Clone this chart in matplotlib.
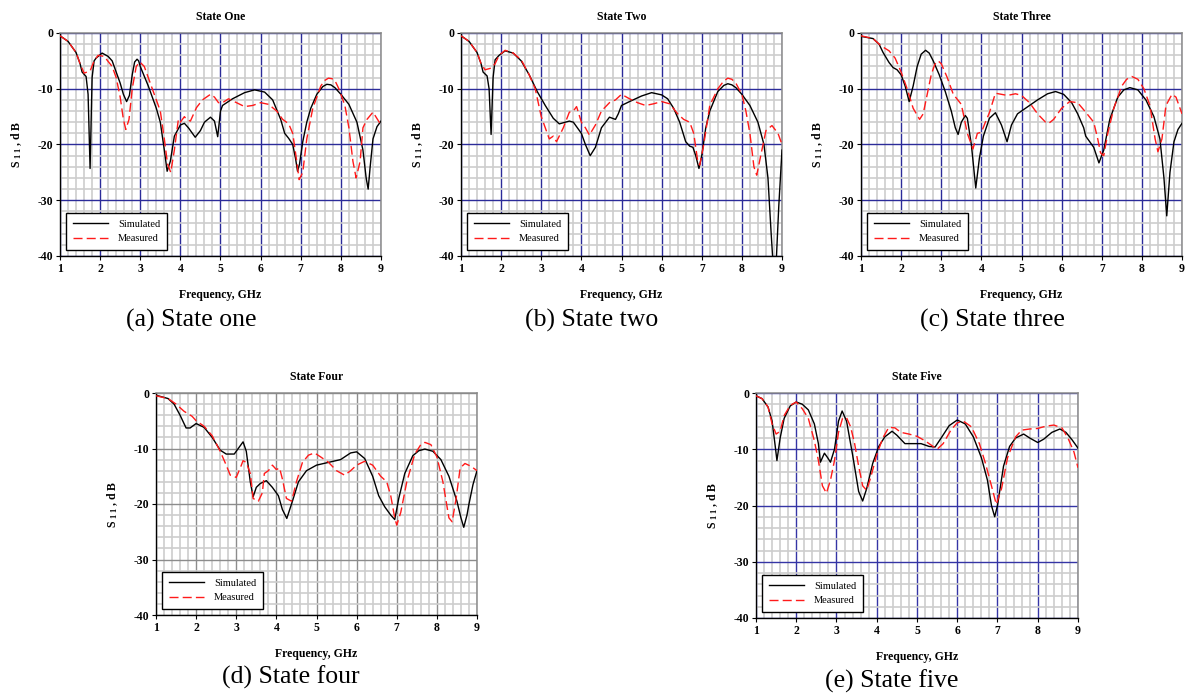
import matplotlib
matplotlib.use("Agg")
import matplotlib.pyplot as plt
from matplotlib.ticker import MultipleLocator

plt.rcParams['font.family'] = ['Liberation Serif', 'DejaVu Serif']
plt.rcParams['axes.unicode_minus'] = False
plt.rcParams['mathtext.fontset'] = 'custom'
plt.rcParams['mathtext.rm'] = 'Liberation Serif:bold'
plt.rcParams['mathtext.default'] = 'rm'

# ---------------- data ----------------
titles = ["State One", "State Two", "State Three", "State Four", "State Five"]
captions = ["(a) State one", "(b) State two", "(c) State three", "(d) State four", "(e) State five"]
series_labels = ["Simulated", "Measured"]
x_ticks = [1, 2, 3, 4, 5, 6, 7, 8, 9]
y_ticks = [0, -10, -20, -30, -40]

fa_sim = [1.0, 1.2, 1.4, 1.5, 1.55, 1.65, 1.7, 1.75, 1.8, 1.85, 1.9, 2.05, 2.2, 2.3, 2.4, 2.5, 2.58, 2.66, 2.73, 2.8, 2.86, 2.92, 2.96,
          3.0, 3.2, 3.4, 3.5, 3.6, 3.67, 3.75, 3.85, 4.0, 4.1, 4.2, 4.37, 4.5, 4.6, 4.75, 4.85, 4.93, 5.0, 5.05, 5.3, 5.6,
          5.85, 6.1, 6.3, 6.5, 6.6, 6.7, 6.8, 6.87, 6.92, 6.97, 7.05, 7.15, 7.25, 7.4, 7.55, 7.65, 7.75, 7.85, 8.0, 8.2, 8.4, 8.55, 8.63, 8.68, 8.73, 8.8, 8.9, 9.0]
sa_sim = [-0.5, -1.5, -3.5, -5.5, -7.0, -7.8, -11.0, -24.3, -8.0, -5.0, -4.5, -3.6, -4.2, -5.0, -7.0, -9.0, -11.0, -12.3, -11.2, -7.5, -5.2, -4.7, -5.0,
          -6.0, -9.5, -13.5, -16.0, -21.0, -24.8, -23.0, -18.5, -16.5, -16.2, -17.0, -18.7, -17.5, -16.0, -15.1, -15.8, -18.6, -14.0, -13.0, -11.8, -10.7,
          -10.2, -10.6, -12.0, -15.5, -18.0, -18.9, -20.0, -22.5, -24.8, -23.5, -19.5, -16.0, -13.5, -11.0, -9.6, -9.2, -9.3, -9.8, -11.0, -12.8, -16.0, -21.0, -26.0, -28.0, -24.0, -19.0, -16.8, -15.8]
fa_meas = [1.0, 1.2, 1.4, 1.5, 1.6, 1.75, 1.85, 1.95, 2.1, 2.3, 2.4, 2.5, 2.58, 2.64, 2.72, 2.8, 2.9, 2.99, 3.1, 3.2, 3.4, 3.5, 3.6, 3.68,
           3.76, 3.85, 3.95, 4.0, 4.1, 4.15, 4.25, 4.4, 4.55, 4.75, 4.85, 4.95, 5.05, 5.2, 5.4, 5.6, 5.8, 6.0, 6.2, 6.4, 6.55, 6.7,
           6.8, 6.9, 6.96, 7.05, 7.15, 7.3, 7.5, 7.6, 7.69, 7.78, 7.85, 7.95, 8.1, 8.2, 8.3, 8.38, 8.48, 8.55, 8.65, 8.8, 9.0]
sa_meas = [-0.5, -1.5, -3.5, -5.5, -7.2, -6.8, -5.0, -4.0, -4.2, -6.0, -8.0, -11.5, -15.5, -17.3, -15.5, -10.0, -6.0, -5.2, -6.0, -8.0, -12.0, -14.0, -19.0, -23.5,
           -25.0, -21.0, -15.5, -16.0, -15.0, -15.5, -15.8, -13.4, -12.0, -11.0, -11.5, -12.5, -12.5, -11.8, -12.5, -13.2, -13.0, -12.5, -12.8, -14.0, -15.5, -16.3,
           -18.0, -23.0, -26.3, -25.0, -19.0, -13.5, -9.5, -8.5, -8.1, -8.2, -8.5, -10.0, -13.0, -17.0, -23.0, -26.0, -23.0, -17.0, -15.5, -14.2, -16.5]

fb_sim = [1.0, 1.2, 1.4, 1.5, 1.55, 1.65, 1.7, 1.75, 1.8, 1.85, 1.95, 2.1, 2.3, 2.5, 2.7, 2.9, 3.1, 3.3, 3.45, 3.6, 3.7, 3.8,
          4.0, 4.1, 4.22, 4.35, 4.5, 4.7, 4.85, 4.92, 5.0, 5.2, 5.5, 5.75, 6.0, 6.15, 6.3, 6.45, 6.6, 6.7, 6.78, 6.85, 6.93,
          7.0, 7.1, 7.2, 7.4, 7.55, 7.65, 7.75, 7.85, 8.0, 8.2, 8.4, 8.55, 8.65, 8.73, 8.8, 8.85, 8.92, 9.0]
sb_sim = [-0.5, -1.5, -3.5, -5.5, -7.0, -7.7, -10.0, -18.2, -8.0, -4.8, -4.0, -3.2, -3.6, -5.0, -7.5, -10.5, -13.0, -15.3, -16.3, -16.0, -15.8, -16.0,
          -18.0, -20.0, -22.0, -20.5, -17.0, -15.1, -15.5, -14.5, -13.0, -12.3, -11.3, -10.7, -11.1, -11.8, -13.5, -16.0, -19.5, -20.3, -20.5, -22.0, -24.3,
          -22.0, -17.0, -14.0, -10.5, -9.4, -9.1, -9.3, -9.8, -11.0, -13.0, -16.0, -20.0, -26.0, -36.0, -44.0, -42.0, -31.0, -21.0]
fb_meas = [1.0, 1.2, 1.4, 1.5, 1.6, 1.75, 1.85, 1.95, 2.1, 2.3, 2.5, 2.7, 2.85, 3.0, 3.1, 3.2, 3.3, 3.38, 3.55, 3.7, 3.8, 3.88,
           4.0, 4.1, 4.2, 4.35, 4.5, 4.7, 4.85, 5.0, 5.2, 5.4, 5.6, 5.8, 6.0, 6.2, 6.4, 6.55, 6.7, 6.8, 6.9, 6.95, 7.05, 7.2,
           7.4, 7.55, 7.65, 7.75, 7.85, 8.0, 8.1, 8.2, 8.3, 8.37, 8.47, 8.6, 8.75, 8.9, 9.0]
sb_meas = [-0.5, -1.5, -3.5, -5.5, -6.6, -6.3, -5.5, -4.0, -3.1, -3.6, -4.8, -7.5, -10.0, -15.0, -17.0, -19.0, -18.5, -19.5, -17.0, -14.2, -14.0, -13.2,
           -16.0, -17.0, -18.3, -16.5, -14.0, -12.5, -12.0, -11.0, -11.8, -12.5, -13.0, -12.7, -12.3, -12.7, -14.5, -15.5, -16.0, -18.0, -23.0, -23.7, -20.0, -13.0,
           -10.0, -8.6, -8.1, -8.3, -9.0, -11.0, -14.0, -18.0, -24.0, -25.5, -22.0, -17.5, -16.6, -18.0, -20.0]

fc_sim = [1.0, 1.3, 1.45, 1.55, 1.7, 1.8, 1.9, 2.0, 2.1, 2.2, 2.3, 2.4, 2.5, 2.61, 2.7, 2.8, 2.95, 3.1, 3.25, 3.35, 3.42, 3.5,
          3.6, 3.65, 3.75, 3.86, 3.95, 4.05, 4.2, 4.35, 4.5, 4.64, 4.75, 4.9, 5.1, 5.4, 5.65, 5.85, 6.05, 6.25, 6.4, 6.55, 6.6,
          6.7, 6.8, 6.93, 7.05, 7.2, 7.4, 7.55, 7.7, 7.9, 8.1, 8.3, 8.45, 8.55, 8.62, 8.7, 8.8, 8.9, 9.0]
sc_sim = [-0.6, -1.0, -2.0, -3.5, -5.3, -6.2, -6.6, -7.5, -9.5, -12.3, -9.5, -6.0, -3.8, -3.1, -3.6, -5.0, -7.5, -10.5, -14.0, -17.0, -18.2, -16.0,
          -14.8, -15.3, -20.0, -27.8, -22.5, -18.5, -15.3, -14.3, -16.5, -19.5, -16.5, -14.5, -13.5, -12.0, -10.9, -10.5, -11.0, -12.5, -14.5, -17.0, -18.5,
          -19.5, -20.5, -23.3, -21.0, -15.5, -11.5, -10.2, -9.8, -10.2, -12.0, -15.0, -19.0, -26.0, -32.8, -25.0, -19.5, -17.3, -16.2]
fc_meas = [1.0, 1.3, 1.5, 1.7, 1.85, 2.0, 2.15, 2.3, 2.46, 2.55, 2.65, 2.75, 2.84, 2.92, 3.0, 3.15, 3.3, 3.5, 3.55, 3.65, 3.79, 3.9, 4.0,
           4.1, 4.2, 4.35, 4.5, 4.65, 4.85, 5.0, 5.2, 5.4, 5.6, 5.68, 5.8, 6.0, 6.2, 6.4, 6.6, 6.8, 6.9, 6.97, 7.05, 7.15, 7.3,
           7.5, 7.62, 7.75, 7.9, 8.05, 8.2, 8.33, 8.4, 8.5, 8.6, 8.75, 8.85, 9.0]
sc_meas = [-0.5, -1.0, -2.3, -3.2, -4.5, -7.0, -10.0, -13.5, -15.5, -14.5, -11.0, -7.5, -5.6, -5.0, -5.5, -8.0, -11.0, -12.8, -14.5, -18.0, -20.8, -18.0, -17.8,
           -16.0, -14.3, -10.8, -11.0, -11.2, -10.9, -11.2, -12.5, -14.5, -16.0, -16.2, -15.5, -13.5, -12.3, -12.5, -14.2, -16.0, -19.0, -21.5, -22.0, -18.0, -13.5,
           -9.5, -8.3, -7.8, -8.3, -10.0, -13.0, -19.0, -21.3, -19.0, -13.0, -11.0, -11.5, -14.5]

fd_sim = [1.0, 1.3, 1.45, 1.6, 1.75, 1.85, 2.0, 2.2, 2.4, 2.6, 2.75, 2.95, 3.05, 3.17, 3.25, 3.35, 3.42, 3.5, 3.6, 3.75, 3.9,
          4.05, 4.15, 4.26, 4.4, 4.55, 4.75, 5.0, 5.3, 5.6, 5.85, 6.0, 6.2, 6.4, 6.55, 6.7, 6.85, 6.95, 7.05, 7.2, 7.4, 7.55, 7.7,
          7.9, 8.1, 8.3, 8.5, 8.6, 8.67, 8.75, 8.8, 8.9, 9.0]
sd_sim = [-0.4, -1.0, -2.0, -4.0, -6.3, -6.3, -5.5, -6.2, -8.0, -10.3, -11.0, -11.0, -10.0, -8.8, -10.5, -16.0, -18.7, -17.0, -16.3, -15.8, -17.0,
          -18.5, -21.0, -22.6, -19.5, -16.0, -14.0, -13.0, -12.5, -12.0, -10.8, -10.6, -11.8, -15.0, -18.5, -20.5, -22.0, -22.8, -19.0, -14.5, -11.3, -10.4, -10.1,
          -10.5, -12.0, -15.0, -19.5, -22.5, -24.2, -22.0, -20.0, -16.5, -14.0]
fd_meas = [1.0, 1.3, 1.5, 1.7, 1.9, 2.0, 2.2, 2.4, 2.6, 2.75, 2.85, 3.0, 3.1, 3.17, 3.25, 3.35, 3.42, 3.55, 3.65, 3.7, 3.8, 3.9,
           4.0, 4.08, 4.15, 4.25, 4.38, 4.5, 4.65, 4.8, 4.95, 5.1, 5.3, 5.5, 5.7, 5.85, 6.0, 6.2, 6.4, 6.6, 6.75, 6.85, 6.95,
           7.0, 7.1, 7.25, 7.45, 7.6, 7.7, 7.85, 8.0, 8.15, 8.3, 8.38, 8.48, 8.58, 8.7, 8.85, 9.0]
sd_meas = [-0.5, -1.0, -2.0, -3.3, -4.2, -5.0, -6.0, -7.7, -10.5, -13.0, -14.8, -15.2, -13.5, -12.2, -12.5, -14.5, -19.0, -19.5, -18.0, -14.5, -14.0, -13.0,
           -13.8, -13.5, -15.5, -19.0, -19.5, -16.0, -12.5, -11.2, -10.8, -11.5, -12.5, -14.0, -14.8, -14.0, -13.0, -12.3, -13.0, -15.0, -16.0, -18.5, -22.5,
           -23.8, -21.5, -16.0, -11.0, -9.3, -8.9, -9.3, -11.5, -16.0, -22.5, -23.2, -19.0, -13.5, -12.7, -13.2, -14.0]

fe_sim = [1.0, 1.15, 1.3, 1.4, 1.47, 1.52, 1.6, 1.7, 1.85, 2.0, 2.15, 2.3, 2.45, 2.55, 2.6, 2.7, 2.78, 2.85, 2.95, 3.05, 3.14,
          3.25, 3.4, 3.55, 3.65, 3.75, 3.9, 4.05, 4.2, 4.38, 4.5, 4.7, 4.9, 5.1, 5.3, 5.45, 5.6, 5.8, 6.0, 6.2, 6.4, 6.6,
          6.75, 6.85, 6.93, 7.0, 7.15, 7.3, 7.45, 7.65, 7.8, 8.0, 8.15, 8.35, 8.55, 8.7, 8.85, 9.0]
se_sim = [-0.5, -1.0, -2.5, -5.0, -9.0, -12.0, -8.0, -4.5, -2.3, -1.6, -2.0, -3.0, -5.5, -9.0, -12.3, -10.7, -11.5, -12.3, -10.0, -5.0, -3.2,
          -5.0, -11.0, -17.5, -19.2, -17.0, -12.5, -9.5, -7.8, -6.8, -7.5, -9.0, -9.0, -9.0, -9.5, -9.6, -8.0, -5.8, -4.8, -5.5, -7.8, -11.5,
          -15.5, -20.0, -22.0, -20.0, -13.0, -9.5, -8.0, -7.3, -8.0, -8.8, -8.2, -7.0, -6.4, -7.0, -8.3, -9.8]
fe_meas = [1.0, 1.15, 1.3, 1.4, 1.5, 1.6, 1.7, 1.85, 2.0, 2.15, 2.3, 2.45, 2.55, 2.65, 2.75, 2.85, 2.95, 3.05, 3.15, 3.25, 3.35,
           3.45, 3.55, 3.65, 3.75, 3.85, 4.0, 4.15, 4.3, 4.45, 4.6, 4.8, 5.0, 5.2, 5.4, 5.5, 5.65, 5.85, 6.0, 6.15, 6.35, 6.55,
           6.7, 6.85, 6.97, 7.1, 7.25, 7.45, 7.6, 7.8, 8.0, 8.2, 8.4, 8.6, 8.75, 8.9, 9.0]
se_meas = [-0.5, -1.0, -2.5, -5.5, -7.3, -6.8, -4.0, -2.2, -1.6, -2.8, -4.5, -8.5, -12.0, -16.5, -17.8, -15.5, -12.0, -7.0, -4.5, -4.4, -6.0,
           -9.0, -13.0, -16.5, -17.3, -15.0, -11.0, -8.0, -6.1, -6.2, -7.0, -7.3, -7.7, -8.5, -9.5, -10.0, -9.0, -6.5, -5.3, -5.0, -6.0, -9.0,
           -12.5, -16.5, -19.8, -17.0, -11.5, -7.8, -6.6, -6.4, -6.3, -5.9, -5.7, -6.2, -8.0, -10.5, -13.3]

panels = [
    (fa_sim, sa_sim, fa_meas, sa_meas),
    (fb_sim, sb_sim, fb_meas, sb_meas),
    (fc_sim, sc_sim, fc_meas, sc_meas),
    (fd_sim, sd_sim, fd_meas, sd_meas),
    (fe_sim, se_sim, fe_meas, se_meas),
]

# ---------------- layout ----------------
W, H = 1190, 698
boxes = [  # left, top, right, bottom in pixels
    (60, 33, 381, 256),
    (461, 33, 782, 256),
    (861, 33, 1182, 256),
    (156, 393, 477, 615),
    (756, 393, 1078, 618),
]
caption_pos = [(191, 320), (592, 320), (992, 320), (291, 677), (892, 681)]
major_colors = ['#2b2b99', '#2b2b99', '#2b2b99', '#8c8c8c', '#3535a5']

fig = plt.figure(figsize=(W / 100, H / 100), dpi=100)

for i, (fs, ss, fm, sm) in enumerate(panels):
    l, t, r, b = boxes[i]
    ax = fig.add_axes([l / W, 1 - b / H, (r - l) / W, (b - t) / H])
    ax.set_xlim(1, 9)
    ax.set_ylim(-40, 0)
    ax.set_xticks(x_ticks)
    ax.set_yticks(y_ticks)
    ax.xaxis.set_minor_locator(MultipleLocator(0.2))
    ax.yaxis.set_minor_locator(MultipleLocator(2))
    ax.grid(which='minor', color='#cdcdcd', linewidth=1.2, zorder=0)
    ax.grid(which='major', color=major_colors[i], linewidth=1.0, zorder=0.5)
    ax.set_axisbelow(True)
    ax.tick_params(which='minor', length=0)
    ax.tick_params(which='major', length=3, width=0.8, direction='out', pad=2)
    for lab in ax.get_xticklabels() + ax.get_yticklabels():
        lab.set_fontweight('bold')
        lab.set_fontsize(8.5)
    for s in ('top', 'right'):
        ax.spines[s].set_color('#8a8a8a')
        ax.spines[s].set_linewidth(1.1)
    for s in ('left', 'bottom'):
        ax.spines[s].set_color('black')
        ax.spines[s].set_linewidth(1.0)

    ax.plot(fs, ss, color='black', linewidth=1.0, label=series_labels[0], zorder=3)
    ax.plot(fm, sm, color='#ff1a1a', linewidth=1.0, dashes=(6.5, 3), label=series_labels[1], zorder=4)

    ax.set_title(titles[i], fontsize=8.5, fontweight='bold', pad=9)
    ax.set_xlabel('Frequency, GHz', fontsize=8.5, fontweight='bold', labelpad=10)
    ax.set_ylabel(r'S $_{1\,1}$ , d B', fontsize=8.5, fontweight='bold', labelpad=10)

    leg = ax.legend(loc='lower left', bbox_to_anchor=(0.019, 0.027), borderaxespad=0,
                    fancybox=False, framealpha=1, edgecolor='black', fontsize=7.5,
                    handlelength=3.4, handletextpad=0.95, borderpad=0.65, labelspacing=0.5)
    leg.get_frame().set_linewidth(1.0)

    cx, cy = caption_pos[i]
    fig.text(cx / W, 1 - cy / H, captions[i], fontsize=18.5, ha='center', va='center')

fig.savefig('out.png', dpi=100)
